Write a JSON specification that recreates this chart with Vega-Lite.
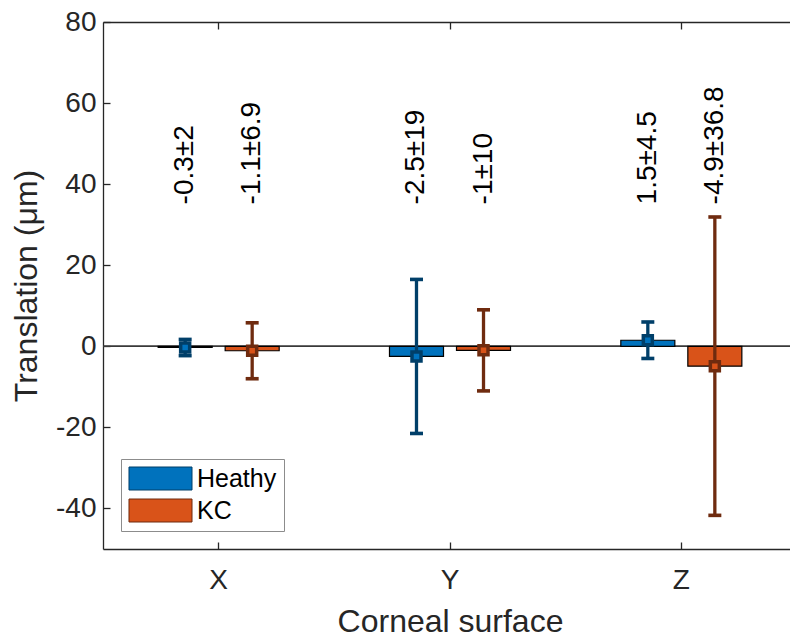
{
  "$schema": "https://vega.github.io/schema/vega-lite/v6.json",
  "width": 694,
  "height": 527,
  "autosize": {"type": "none"},
  "padding": {"left": 103, "top": 22, "right": -7, "bottom": 91},
  "background": "white",
  "config": {
    "view": {"stroke": null},
    "font": "Liberation Sans",
    "axis": {
      "domainColor": "#262626",
      "domainWidth": 1.3,
      "tickColor": "#262626",
      "tickWidth": 1.3,
      "tickSize": -7,
      "labelColor": "#262626",
      "labelFontSize": 28,
      "labelFont": "Liberation Sans",
      "titleFont": "Liberation Sans",
      "titleFontSize": 32,
      "titleFontWeight": "normal",
      "titleColor": "#262626",
      "grid": false
    }
  },
  "resolve": {"axis": {"x": "independent", "y": "independent"}},
  "data": {
    "values": [
      {"surface": "X", "group": "Heathy", "mean": -0.3, "low": -2.3, "high": 1.7, "label": "-0.3±2"},
      {"surface": "X", "group": "KC", "mean": -1.1, "low": -8.0, "high": 5.8, "label": "-1.1±6.9"},
      {"surface": "Y", "group": "Heathy", "mean": -2.5, "low": -21.5, "high": 16.5, "label": "-2.5±19"},
      {"surface": "Y", "group": "KC", "mean": -1.0, "low": -11.0, "high": 9.0, "label": "-1±10"},
      {"surface": "Z", "group": "Heathy", "mean": 1.5, "low": -3.0, "high": 6.0, "label": "1.5±4.5"},
      {"surface": "Z", "group": "KC", "mean": -4.9, "low": -41.7, "high": 31.9, "label": "-4.9±36.8"}
    ]
  },
  "layer": [
    {
      "mark": {"type": "rule", "color": "#3a3a3a", "strokeWidth": 1},
      "encoding": {
        "y": {"datum": 0, "type": "quantitative", "scale": {"domain": [-50, 80], "nice": false, "zero": false}, "axis": null}
      }
    },
    {
      "mark": {"type": "bar", "stroke": "black", "strokeWidth": 1.2},
      "encoding": {
        "x": {"field": "surface", "type": "nominal", "sort": ["X", "Y", "Z"],
              "scale": {"paddingInner": 0, "paddingOuter": 0},
              "axis": {"orient": "bottom", "title": "Corneal surface", "labelAngle": 0, "labelPadding": 24,
                       "titleBaseline": "alphabetic", "titleAlign": "center", "titleX": 347, "titleY": 82}},
        "xOffset": {"field": "group", "type": "nominal", "scale": {"paddingInner": 0.194, "paddingOuter": 0.823}},
        "y": {"field": "mean", "type": "quantitative",
              "axis": {"orient": "left", "values": [-40, -20, 0, 20, 40, 60, 80], "labelPadding": 14,
                       "labelExpr": "replace(datum.label, '−', '-')",
                       "title": "Translation (μm)", "titleAngle": -90, "titleBaseline": "alphabetic",
                       "titleAlign": "center", "titleX": -67, "titleY": 263.5}},
        "fill": {"field": "group", "type": "nominal",
                 "scale": {"domain": ["Heathy", "KC"], "range": ["#0072BD", "#D95319"]},
                 "legend": {"title": null, "orient": "none", "legendX": 18, "legendY": 437,
                            "symbolType": "M-2.74,-1H2.74V1H-2.74Z", "symbolSize": 529, "symbolOffset": 20,
                            "symbolStrokeColor": "black", "symbolStrokeWidth": 1, "symbolOpacity": 1,
                            "labelFontSize": 25, "labelColor": "#000000", "labelFont": "Liberation Sans",
                            "labelOffset": 24, "rowPadding": 5, "padding": 7,
                            "strokeColor": "#8c8c8c", "fillColor": "white"}}
      }
    },
    {
      "mark": {"type": "rule", "strokeWidth": 3.3, "opacity": 1},
      "encoding": {
        "x": {"field": "surface", "type": "nominal", "sort": ["X", "Y", "Z"], "axis": null},
        "xOffset": {"field": "group", "type": "nominal"},
        "y": {"field": "low", "type": "quantitative", "axis": null},
        "y2": {"field": "high"},
        "color": {"field": "group", "type": "nominal",
                  "scale": {"domain": ["Heathy", "KC"], "range": ["#003F69", "#6F2B0F"]}, "legend": null}
      }
    },
    {
      "mark": {"type": "tick", "orient": "horizontal", "size": 13, "thickness": 3.6, "opacity": 1},
      "encoding": {
        "x": {"field": "surface", "type": "nominal", "sort": ["X", "Y", "Z"], "axis": null},
        "xOffset": {"field": "group", "type": "nominal"},
        "y": {"field": "low", "type": "quantitative", "axis": null},
        "color": {"field": "group", "type": "nominal", "legend": null}
      }
    },
    {
      "mark": {"type": "tick", "orient": "horizontal", "size": 13, "thickness": 3.6, "opacity": 1},
      "encoding": {
        "x": {"field": "surface", "type": "nominal", "sort": ["X", "Y", "Z"], "axis": null},
        "xOffset": {"field": "group", "type": "nominal"},
        "y": {"field": "high", "type": "quantitative", "axis": null},
        "color": {"field": "group", "type": "nominal", "legend": null}
      }
    },
    {
      "mark": {"type": "point", "shape": "square", "filled": true, "size": 81, "strokeWidth": 3.5, "opacity": 1},
      "encoding": {
        "x": {"field": "surface", "type": "nominal", "sort": ["X", "Y", "Z"], "axis": null},
        "xOffset": {"field": "group", "type": "nominal"},
        "y": {"field": "mean", "type": "quantitative", "axis": null},
        "fill": {"field": "group", "type": "nominal", "legend": null},
        "stroke": {"field": "group", "type": "nominal",
                   "scale": {"domain": ["Heathy", "KC"], "range": ["#003F69", "#6F2B0F"]}, "legend": null}
      }
    },
    {
      "mark": {"type": "text", "angle": 270, "align": "left", "baseline": "middle", "fontSize": 28, "color": "#000000", "font": "Liberation Sans"},
      "encoding": {
        "x": {"field": "surface", "type": "nominal", "sort": ["X", "Y", "Z"],
              "axis": {"orient": "top", "labels": false, "title": null}},
        "xOffset": {"field": "group", "type": "nominal"},
        "y": {"datum": 35, "type": "quantitative",
              "axis": {"orient": "right", "values": [-40, -20, 0, 20, 40, 60, 80], "labels": false, "title": null}},
        "text": {"field": "label"}
      }
    }
  ]
}
